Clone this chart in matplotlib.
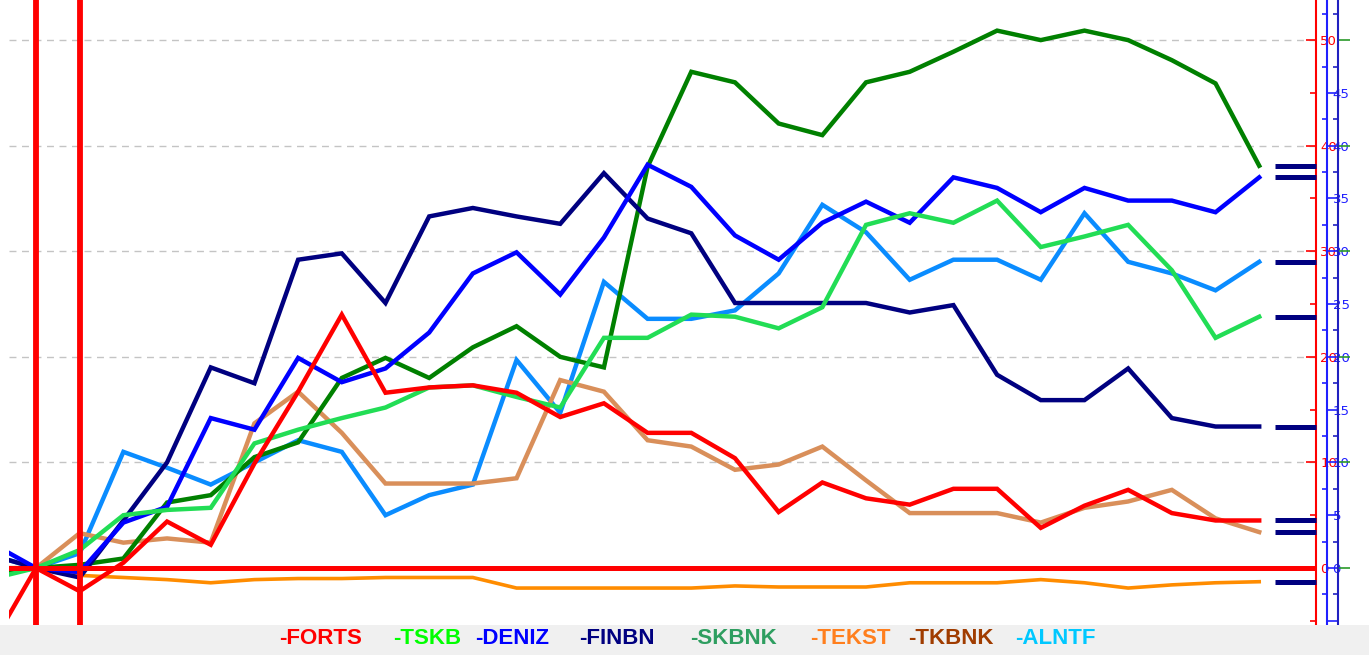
import matplotlib
matplotlib.use("Agg")
import matplotlib.pyplot as plt
from matplotlib.patches import Rectangle
from matplotlib.ticker import FixedLocator, FuncFormatter
import numpy as np

# percent change since the start day (index 0); index -1 is the day before
days = np.arange(-1, 29)

forts = [-7.2, 0, -2.2, 0.5, 4.4, 2.2, 9.9, 16.7, 24.0, 16.6, 17.1, 17.3, 16.6, 14.3, 15.6,
         12.8, 12.8, 10.4, 5.3, 8.1, 6.6, 6.0, 7.5, 7.5, 3.8, 5.9, 7.4, 5.2, 4.5, 4.5]
tskb = [-1.0, 0, 1.7, 5.0, 5.5, 5.7, 11.8, 13.1, 14.2, 15.2, 17.1, 17.3, 16.2, 15.2, 21.8,
        21.8, 24.0, 23.8, 22.7, 24.7, 32.5, 33.6, 32.7, 34.8, 30.4, 31.4, 32.5, 28.2, 21.8, 23.8]
deniz = [2.3, 0, -0.4, 4.3, 5.8, 14.2, 13.1, 19.9, 17.6, 18.9, 22.3, 27.9, 29.9, 25.9, 31.3,
         38.2, 36.1, 31.5, 29.2, 32.7, 34.7, 32.7, 37.0, 36.0, 33.7, 36.0, 34.8, 34.8, 33.7, 37.0]
finbn = [1.2, 0, -0.9, 4.5, 10.0, 19.0, 17.5, 29.2, 29.8, 25.1, 33.3, 34.1, 33.3, 32.6, 37.4,
         33.1, 31.7, 25.1, 25.1, 25.1, 25.1, 24.2, 24.9, 18.3, 15.9, 15.9, 18.9, 14.2, 13.4, 13.4]
skbnk = [-0.6, 0, 0.3, 0.9, 6.2, 6.9, 10.5, 11.9, 18.0, 19.9, 18.0, 20.9, 22.9, 20.0, 19.0,
         38.0, 47.0, 46.0, 42.1, 41.0, 46.0, 47.0, 48.9, 50.9, 50.0, 50.9, 50.0, 48.1, 45.9, 38.1]
tekst = [0, 0, -0.7, -0.9, -1.1, -1.4, -1.1, -1.0, -1.0, -0.9, -0.9, -0.9, -1.9, -1.9, -1.9,
         -1.9, -1.9, -1.7, -1.8, -1.8, -1.8, -1.4, -1.4, -1.4, -1.1, -1.4, -1.9, -1.6, -1.4, -1.3]
tkbnk = [0, 0, 3.3, 2.4, 2.8, 2.4, 13.7, 16.7, 12.8, 8.0, 8.0, 8.0, 8.5, 17.8, 16.7,
         12.1, 11.5, 9.3, 9.8, 11.5, 8.3, 5.2, 5.2, 5.2, 4.3, 5.7, 6.3, 7.4, 4.7, 3.4]
alntf = [1.2, 0, 1.4, 11.0, 9.5, 7.9, 10.0, 12.1, 11.0, 5.0, 6.9, 7.9, 19.7, 14.7, 27.1,
         23.6, 23.6, 24.4, 27.9, 34.4, 31.8, 27.3, 29.2, 29.2, 27.3, 33.6, 29.0, 27.9, 26.3, 29.0]

names = ['-FORTS', '-TSKB', '-DENIZ', '-FINBN', '-SKBNK', '-TEKST', '-TKBNK', '-ALNTF']
series = [forts, tskb, deniz, finbn, skbnk, tekst, tkbnk, alntf]
line_colors = ['#ff0000', '#22dd55', '#0000ff', '#000080', '#008000', '#ff8c00', '#d98f5a', '#0a8cff']
name_colors = ['#ff0000', '#00ff00', '#0000ff', '#000080', '#2e9e60', '#ff7f1e', '#a03c00', '#00c8ff']
name_x = [279, 393, 475, 579, 690, 810, 908, 1015]

W, H = 1369, 655
fig = plt.figure(figsize=(W / 100, H / 100), dpi=100)
fig.patch.set_facecolor('white')
ax = fig.add_axes([9 / W, 30 / H, 1307 / W, 625 / H])
ax.set_xlim(-0.618, 29.3)
ax.set_ylim(-5.4, 53.8)

for v in range(10, 60, 10):
    ax.axhline(v, color='#c4c4c4', lw=1, ls=(0, (5, 4)), zorder=1)

# draw in reverse so FORTS ends up on top
for vals, c, n in reversed(list(zip(series, line_colors, names))):
    lw = 2.6 if n == '-TEKST' else 3.2
    ax.plot(days, vals, color=c, lw=lw, zorder=3, solid_joinstyle='miter')

# last value markers
for vals in series:
    ax.plot([0.9686, 1.0], [vals[-1], vals[-1]], color='#000080', lw=3.6,
            solid_capstyle='butt', transform=ax.get_yaxis_transform(), zorder=4, clip_on=False)

# red crosshair
ax.axhline(0, color='#ff0000', lw=3.6, zorder=5)
ax.axvline(0, color='#ff0000', lw=4.2, zorder=5)
ax.axvline(1, color='#ff0000', lw=4.2, zorder=5)

# two crowded blue scales on the right
ax2 = ax.twinx()
ax2.set_ylim(ax.get_ylim())
ax2.spines['right'].set_position(('outward', 7.9))
ax2.spines['right'].set_color('#2020ff')
ax2.spines['right'].set_linewidth(1.5)
for s in ['top', 'left', 'bottom']:
    ax2.spines[s].set_visible(False)
ax2.yaxis.set_major_locator(FixedLocator(range(-5, 50, 5)))
ax2.yaxis.set_minor_locator(FixedLocator(np.arange(-2.5, 55, 5)))
ax2.yaxis.set_major_formatter(FuncFormatter(lambda v, p: '' if v < 0 else f'{v:g}'))
ax2.tick_params(axis='y', which='major', direction='out', length=8, width=1.2,
                color='#2020ff', labelcolor='#2020ff', labelsize=9.5, pad=-4)
ax2.tick_params(axis='y', which='minor', direction='in', length=3.6, width=1.2, color='#2020ff')

ax3 = ax.twinx()
ax3.set_ylim(ax.get_ylim())
ax3.spines['right'].set_position(('outward', 15.8))
ax3.spines['right'].set_color('#2020c0')
ax3.spines['right'].set_linewidth(1.5)
for s in ['top', 'left', 'bottom']:
    ax3.spines[s].set_visible(False)
ax3.yaxis.set_major_locator(FixedLocator(range(-10, 60, 10)))
ax3.yaxis.set_minor_locator(FixedLocator(np.arange(-2.5, 55, 5)))
ax3.tick_params(axis='y', which='major', direction='out', length=8.6, width=1.2,
                color='#2a9a2a', labelright=False)
ax3.tick_params(axis='y', which='minor', direction='in', length=3.6, width=1.2, color='#2020c0')

# red main scale (set after twinx, which moves ticks to the left)
ax.set_xticks([])
for s in ['top', 'left', 'bottom']:
    ax.spines[s].set_visible(False)
ax.spines['right'].set_color('#ff0000')
ax.spines['right'].set_linewidth(1.5)
ax.yaxis.tick_right()
ax.yaxis.set_major_locator(FixedLocator(range(0, 60, 10)))
ax.yaxis.set_minor_locator(FixedLocator(range(-5, 60, 10)))
ax.tick_params(axis='y', which='major', direction='in', length=7.5, width=1.2,
               color='#ff0000', labelcolor='#ff0000', labelsize=9.5, pad=3,
               left=False, labelleft=False, right=True, labelright=True)
ax.tick_params(axis='y', which='minor', direction='in', length=4, width=1.2, color='#ff0000',
               left=False, right=True)

# grey legend strip
fig.add_artist(Rectangle((0, 0), 1, 30 / H, transform=fig.transFigure,
                         facecolor='#f0f0f0', edgecolor='none', zorder=10))
for n, c, x in zip(names, name_colors, name_x):
    fig.text(x / W, 17 / H, n, color=c, fontsize=16, fontweight='bold', va='center',
             ha='left', family='Liberation Sans', zorder=11)

fig.savefig('out.png', dpi=100, facecolor='white')
